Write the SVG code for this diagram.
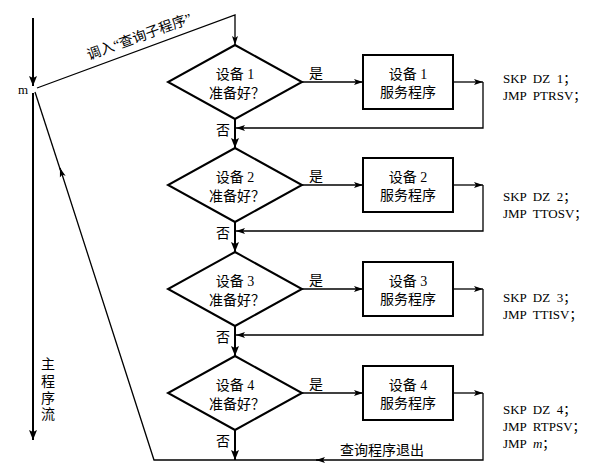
<svg xmlns="http://www.w3.org/2000/svg" width="604" height="471" viewBox="0 0 604 471">
<defs>
<marker id="ah" markerUnits="userSpaceOnUse" markerWidth="10" markerHeight="8" refX="9" refY="3.5" orient="auto">
<path d="M0,0.5 L9,3.5 L0,6.5 L2,3.5 Z" fill="#000"/>
</marker>
<marker id="ahb" markerUnits="userSpaceOnUse" markerWidth="12" markerHeight="10" refX="10" refY="4" orient="auto">
<path d="M0,0 L10,4 L0,8 L2,4 Z" fill="#000"/>
</marker>
</defs>
<style>
.shape{fill:#fff;stroke:#000;stroke-width:2}
.c{fill:none;stroke:#000;stroke-width:1.3}
.main{fill:none;stroke:#000;stroke-width:2}
text{font-family:"Liberation Serif","Noto Sans CJK SC",serif;font-size:14px;fill:#000}
.m{text-anchor:middle}
.code{font-size:13px}
</style>
<rect width="604" height="471" fill="#fff"/>
<g id="connectors">
<path class="main" d="M33,18 V86" marker-end="url(#ahb)"/>
<path class="main" d="M33,93 V440" marker-end="url(#ahb)"/>
<path class="c" d="M37,88 L235,15 V45" marker-end="url(#ah)"/>
<path class="c" d="M302,82 H363" marker-end="url(#ah)"/>
<path class="c" d="M453,82 H483" marker-end="url(#ah)"/>
<path class="c" d="M483,82 V128 H236" marker-end="url(#ah)"/>
<path class="main" d="M235,119 V148" marker-end="url(#ahb)"/>
<path class="c" d="M302,185 H363" marker-end="url(#ah)"/>
<path class="c" d="M453,185 H483" marker-end="url(#ah)"/>
<path class="c" d="M483,185 V231 H236" marker-end="url(#ah)"/>
<path class="main" d="M235,222 V252" marker-end="url(#ahb)"/>
<path class="c" d="M302,289 H363" marker-end="url(#ah)"/>
<path class="c" d="M453,289 H483" marker-end="url(#ah)"/>
<path class="c" d="M483,289 V335 H236" marker-end="url(#ah)"/>
<path class="main" d="M235,326 V356" marker-end="url(#ahb)"/>
<path class="c" d="M302,393 H363" marker-end="url(#ah)"/>
<path class="c" d="M453,393 H483" marker-end="url(#ah)"/>
<path class="c" d="M483,393 V460 H316" marker-end="url(#ah)"/>
<path class="c" d="M320,460 H154 L60,168" marker-end="url(#ah)"/>
<path class="c" d="M61,172 L35,92"/>
<path class="main" d="M235,430 V460" marker-end="url(#ahb)"/>
</g>
<g id="d1"><polygon class="shape" points="235,45 302,82 235,119 168,82"/><text class="m" x="235" y="79">设备 1</text><text class="m" x="237" y="98">准备好？</text></g>
<g id="d2"><polygon class="shape" points="235,148 302,185 235,222 168,185"/><text class="m" x="235" y="182">设备 2</text><text class="m" x="237" y="201">准备好？</text></g>
<g id="d3"><polygon class="shape" points="235,252 302,289 235,326 168,289"/><text class="m" x="235" y="286">设备 3</text><text class="m" x="237" y="305">准备好？</text></g>
<g id="d4"><polygon class="shape" points="235,356 302,393 235,430 168,393"/><text class="m" x="235" y="390">设备 4</text><text class="m" x="237" y="409">准备好？</text></g>
<g id="b1"><rect class="shape" x="363" y="55" width="90" height="54"/><text class="m" x="408" y="79">设备 1</text><text class="m" x="408" y="97">服务程序</text></g>
<g id="b2"><rect class="shape" x="363" y="158" width="90" height="54"/><text class="m" x="408" y="182">设备 2</text><text class="m" x="408" y="200">服务程序</text></g>
<g id="b3"><rect class="shape" x="363" y="262" width="90" height="54"/><text class="m" x="408" y="286">设备 3</text><text class="m" x="408" y="304">服务程序</text></g>
<g id="b4"><rect class="shape" x="363" y="366" width="90" height="54"/><text class="m" x="408" y="390">设备 4</text><text class="m" x="408" y="408">服务程序</text></g>
<g id="labels">
<text class="m" x="316" y="78">是</text>
<text class="m" x="316" y="181">是</text>
<text class="m" x="316" y="285">是</text>
<text class="m" x="316" y="389">是</text>
<text class="m" x="223" y="135">否</text>
<text class="m" x="223" y="238">否</text>
<text class="m" x="223" y="342">否</text>
<text class="m" x="223" y="446">否</text>
<text class="code" x="18" y="94">m</text>
<text class="m" transform="translate(141,41) rotate(-20)">调入“查询子程序”</text>
<text class="m" x="382" y="455">查询程序退出</text>
<text class="m" x="48" y="369">主</text>
<text class="m" x="48" y="386">程</text>
<text class="m" x="48" y="403">序</text>
<text class="m" x="48" y="419">流</text>
<text class="code" x="503" y="83" xml:space="preserve">SKP  DZ  1；</text>
<text class="code" x="503" y="100" xml:space="preserve">JMP  PTRSV；</text>
<text class="code" x="503" y="201" xml:space="preserve">SKP  DZ  2；</text>
<text class="code" x="503" y="218" xml:space="preserve">JMP  TTOSV；</text>
<text class="code" x="503" y="302" xml:space="preserve">SKP  DZ  3；</text>
<text class="code" x="503" y="319" xml:space="preserve">JMP  TTISV；</text>
<text class="code" x="503" y="414" xml:space="preserve">SKP  DZ  4；</text>
<text class="code" x="503" y="431" xml:space="preserve">JMP  RTPSV；</text>
<text class="code" x="503" y="448" xml:space="preserve">JMP  <tspan font-style="italic">m</tspan>；</text>
</g>
</svg>
